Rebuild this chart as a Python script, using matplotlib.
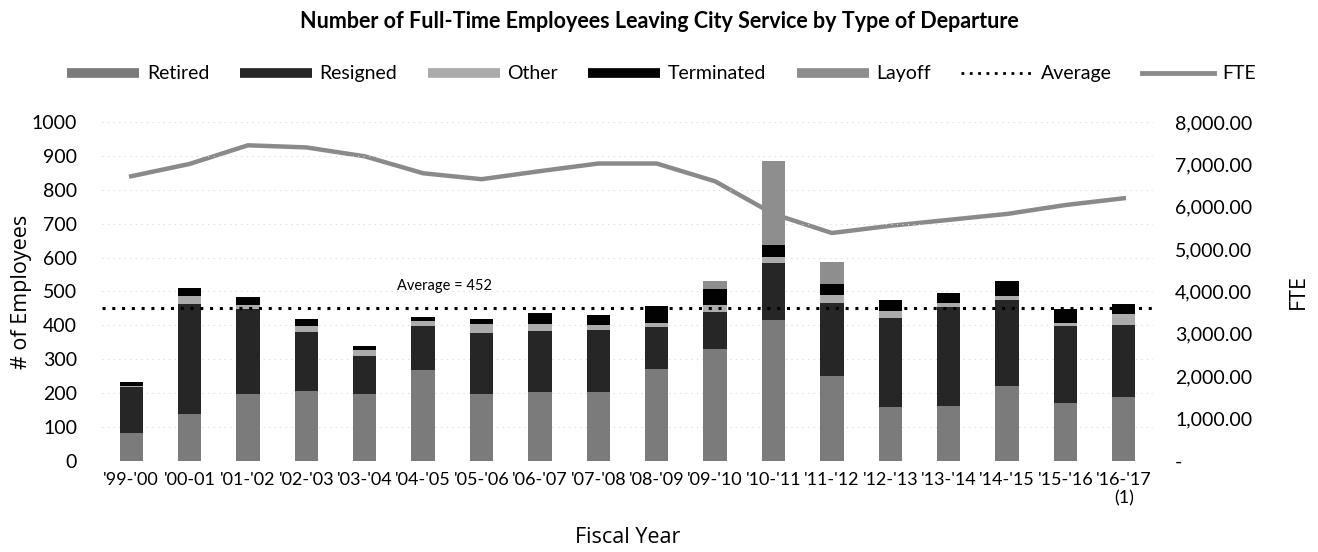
import matplotlib
matplotlib.use("Agg")
import matplotlib.pyplot as plt
from matplotlib.lines import Line2D
import numpy as np

years = ["'99-'00", "'00-01", "'01-'02", "'02-'03", "'03-'04", "'04-'05", "'05-'06",
         "'06-'07", "'07-'08", "'08-'09", "'09-'10", "'10-'11", "'11-'12", "'12-'13",
         "'13-'14", "'14-'15", "'15-'16", "'16-'17\n(1)"]
retired    = [82, 139, 198, 205, 199, 267, 198, 203, 204, 272, 329, 416, 250, 159, 163, 221, 171, 188]
resigned   = [135, 324, 250, 176, 111, 132, 181, 179, 182, 122, 111, 168, 216, 264, 290, 255, 226, 213]
other      = [5, 25, 12, 16, 16, 14, 25, 22, 15, 13, 20, 17, 25, 20, 13, 12, 10, 32]
terminated = [12, 21, 25, 23, 13, 13, 14, 34, 30, 51, 47, 37, 31, 33, 31, 42, 41, 30]
layoff     = [0, 0, 0, 0, 0, 0, 0, 0, 0, 0, 23, 247, 65, 0, 0, 0, 0, 0]
fte        = [6720, 7010, 7450, 7400, 7190, 6790, 6650, 6840, 7020, 7020, 6600, 5830, 5380,
              5550, 5690, 5830, 6040, 6200]
average = 452

left_ticks = list(range(0, 1001, 100))
right_ticks = list(range(0, 8001, 1000))

colors = {"Retired": "#7b7b7b", "Resigned": "#262626", "Other": "#ababab",
          "Terminated": "#020202", "Layoff": "#8e8e8e"}

fig = plt.figure(figsize=(13.18, 5.52), dpi=100)
ax = fig.add_axes([0.0774, 0.1649, 0.7974, 0.6141])
ax2 = ax.twinx()

x = np.arange(len(years))
w = 0.40
bottom = np.zeros(len(years))
series = [("Retired", retired), ("Resigned", resigned), ("Other", other),
          ("Terminated", terminated), ("Layoff", layoff)]
for name, vals in series:
    v = np.array(vals, dtype=float)
    ax.bar(x, v, w, bottom=bottom, color=colors[name], zorder=3)
    bottom += v

ax.axhline(average, xmin=0.0, xmax=1.0, color="black", linestyle=(0, (1, 2.2)),
           linewidth=2.2, zorder=4)
ax.text(4.55, average + 45, "Average = 452", fontsize=10.5, family="Lato",
        va="bottom", ha="left")

ax2.plot(x, fte, color="#8a8a8a", linewidth=3.2, zorder=1)

# bars drawn above the FTE line
ax.set_zorder(ax2.get_zorder() + 1)
ax.patch.set_visible(False)

ax.set_xlim(-0.5, len(years) - 0.5)
ax.set_ylim(0, 1000)
ax2.set_ylim(0, 8000)
ax.set_yticks(left_ticks)
ax.set_yticklabels([str(t) for t in left_ticks], family="Lato", fontsize=14)
ax2.set_yticks(right_ticks)
ax2.set_yticklabels(["-" if t == 0 else f"{t:,.2f}" for t in right_ticks],
                    family="Lato", fontsize=14)
ax.set_xticks(x)
ax.set_xticklabels(years, family="Lato", fontsize=13)
ax.tick_params(axis="x", length=0, pad=8)
ax.tick_params(axis="y", length=0, pad=18)
ax2.tick_params(axis="y", length=0, pad=16)

for a in (ax, ax2):
    for s in a.spines.values():
        s.set_visible(False)

ax.grid(axis="y", color="#d8d8d8", linestyle=(0, (1, 4)), linewidth=0.8, zorder=0)

ax.set_ylabel("# of Employees", family="Open Sans", fontsize=15.5)
ax.yaxis.set_label_coords(-0.067, 0.5)
ax.set_xlabel("Fiscal Year", family="Open Sans", fontsize=15.5)
ax.xaxis.set_label_coords(0.5, -0.195)
ax2.set_ylabel("FTE", family="Open Sans", fontsize=15.5)
ax2.yaxis.set_label_coords(1.128, 0.5)

fig.suptitle("Number of Full-Time Employees Leaving City Service by Type of Departure",
             family="Lato", fontweight="bold", fontsize=15.5, x=0.5, y=0.98)

handles = [Line2D([], [], color=colors[n], linewidth=7, solid_capstyle="butt")
           for n, _ in series]
handles.append(Line2D([], [], color="black", linestyle=(0, (1, 2)), linewidth=2))
handles.append(Line2D([], [], color="#8a8a8a", linewidth=3.5))
labels = [n for n, _ in series] + ["Average", "FTE"]
fig.legend(handles, labels, loc="center", bbox_to_anchor=(0.502, 0.866), ncol=7,
           frameon=False, handlelength=3.7, columnspacing=1.56, handletextpad=0.4,
           prop={"family": "Lato", "size": 14})

fig.savefig("out.png", dpi=100)
